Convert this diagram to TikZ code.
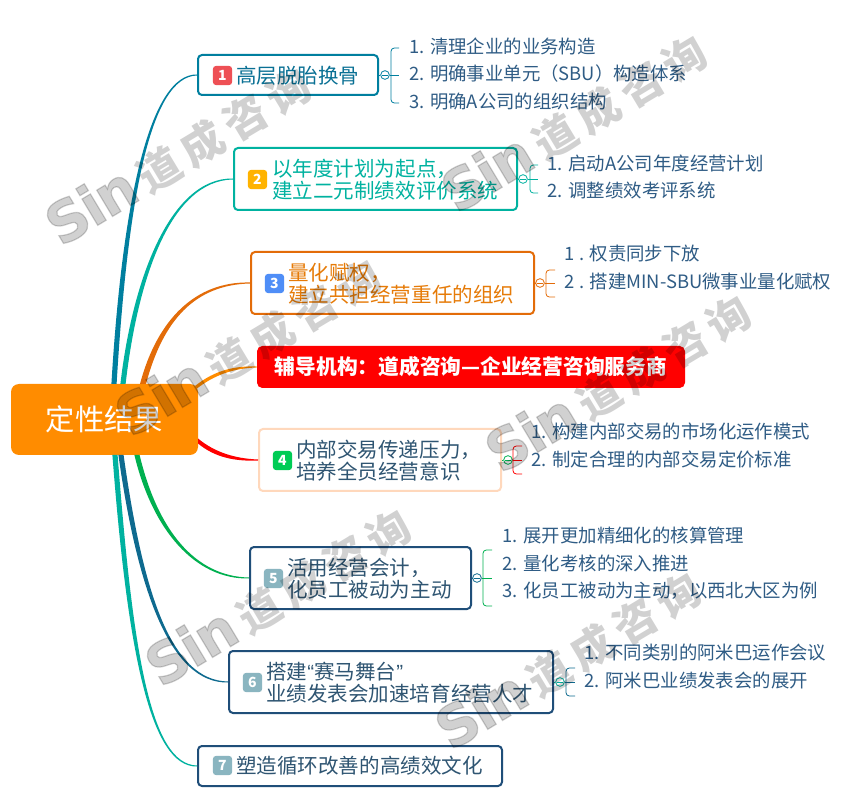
\documentclass[tikz,border=0pt]{standalone}
\usepackage{fontspec}
\usetikzlibrary{calc,shapes.misc}
\setmainfont{Noto Sans CJK SC}
\newfontfamily\latinq{Liberation Sans}
\newfontfamily\wmfont[FakeBold=2.2]{DejaVu Sans Bold}
\definecolor{cA}{HTML}{007F9F}
\definecolor{cB}{HTML}{00B2A0}
\definecolor{cC}{HTML}{E36C09}
\definecolor{cD}{HTML}{FF8C00}
\definecolor{cE}{HTML}{FF0000}
\definecolor{cF}{HTML}{00B050}
\definecolor{cG}{HTML}{0E6A8F}
\definecolor{navy}{HTML}{1F4E79}
\definecolor{peach}{HTML}{FFD8BC}
\definecolor{subtxt}{HTML}{2F5C85}
\definecolor{maintxt}{HTML}{2F5572}
\definecolor{bA}{HTML}{EE5055}
\definecolor{bB}{HTML}{FFB300}
\definecolor{bC}{HTML}{4F8EF7}
\definecolor{bD}{HTML}{00CC55}
\definecolor{bE}{HTML}{8AB5C0}
\tikzset{
  topicbox/.style={draw=#1,line width=1.5pt,rounded corners=3pt,fill=white,inner sep=0pt},
  badge/.style={fill=#1,rounded corners=2.5pt,minimum size=14.5pt,inner sep=0pt,text=white,font=\fontsize{10.5pt}{11pt}\selectfont\bfseries},
  maintext/.style={anchor=west,inner sep=0pt,align=left,text=#1,font=\fontsize{15.4pt}{16.5pt}\selectfont},
  subtext/.style={anchor=west,inner sep=0pt,text=subtxt,font=\fontsize{13.8pt}{16pt}\selectfont},
  fold/.style={circle,draw=#1,line width=0.6pt,fill=white,minimum size=6.5pt,inner sep=0pt,
    path picture={\draw[#1,line width=0.5pt] ([xshift=-2pt]path picture bounding box.center) -- ([xshift=2pt]path picture bounding box.center);}},
  wmstyle/.style={text=black,opacity=0.18,inner sep=0pt,rotate=31}
}
% name, x1, y1, x2, y2, colour
\newcommand\boxnode[6]{\node[topicbox=#6,minimum width={(#4-#2)*0.75pt},minimum height={(#5-#3)*0.75pt}] (#1) at ({(#2+#4)/2},{(#3+#5)/2}) {};}
% colour, start coordinate, half width, c1, c2, end, sign (-1 rising branch, 1 falling branch)
\newcommand\taper[7]{\fill[#1] ($(#2)+(#3,0)$) .. controls ($#4+(#3,0)$) and ($#5+(0,{#7*(-0.6)*#3})$) .. ($#6+(0,{#7*(-0.5)})$) -- ($#6+(0,{#7*0.5})$) .. controls ($#5+(0,{#7*0.6*#3})$) and ($#4-(#3,0)$) .. ($(#2)-(#3,0)$) -- cycle;}
\newcommand\tapery[6]{\fill[#1] ($(#2)+(0,#3)$) .. controls ($#4+(0,#3)$) and ($#5+(0,0.6*#3)$) .. ($#6+(0,0.5)$) -- ($#6-(0,0.5)$) .. controls ($#5-(0,0.6*#3)$) and ($#4-(0,#3)$) .. ($(#2)-(0,#3)$) -- cycle;}
% name, parent, fold colour, bracket colour, x of fold, y, x bracket, x end, y top
\newcommand\brak[9]{%
  \node[fold=#3] (#1f) at (#5,#6) {};
  \coordinate (#1a) at (#8,#6);
  \draw[#3,line width=0.6pt] (#2.east) -- (#1f.west);
  \draw[#4,line width=0.6pt] (#1f.east) -- (#1a);
  \draw[#4,line width=0.6pt,rounded corners=2.5pt] (#8,#9) -- (#7,#9) -- (#7,\brakbot) -- (#8,\brakbot);
}
\newcommand\wmark[3]{\node[wmstyle] (#1) at (#2,#3) {{\wmfont\fontsize{42pt}{44pt}\selectfont S\kern-1.5pt i\kern-1.5pt n}\hspace{6pt}{\fontsize{32pt}{36pt}\selectfont\bfseries 道\hspace{5.5pt}成\hspace{5.5pt}咨\hspace{5.5pt}询}};}
\begin{document}
\begin{tikzpicture}[x=0.75pt,y=-0.75pt]
\useasboundingbox (0,0) rectangle (844,806);
\fill[white] (0,0) rectangle (844,806);
% root and topics
\node[fill=cD,rounded corners=6pt,minimum width={187*0.75pt},minimum height={71*0.75pt},inner sep=0pt,text=white,font=\fontsize{22pt}{24pt}\selectfont] (root) at (104.5,419.5) {定性结果};
\boxnode{n1}{198}{55}{378}{95}{cA}
\boxnode{n2}{234}{148}{517}{210}{cB}
\boxnode{n3}{251}{252}{534}{314}{cC}
\node[fill=cE,rounded corners=4pt,minimum width={428*0.75pt},minimum height={42*0.75pt},inner sep=0pt,text=white,font=\fontsize{15.55pt}{16.5pt}\selectfont\bfseries] (nr) at (471,367) {辅导机构：道成咨询—企业经营咨询服务商};
\boxnode{n4}{259}{429}{501}{491}{peach}
\boxnode{n5}{250}{547}{471}{609}{navy}
\boxnode{n6}{229}{651}{553}{713}{navy}
\boxnode{n7}{198}{746}{502}{786}{navy}
% badges
\node[badge=bA] (b1) at (222.5,75.5) {1};
\node[badge=bB] (b2) at (257.5,179.5) {2};
\node[badge=bC] (b3) at (274.5,283.5) {3};
\node[badge=bD] (b4) at (282.5,460.5) {4};
\node[badge=bE] (b5) at (273.5,578.5) {5};
\node[badge=bE] (b6) at (252.5,682.5) {6};
\node[badge=bE] (b7) at (222.5,765.5) {7};
% topic texts
\node[maintext=cA!70!navy] (t1) at (236,76) {高层脱胎换骨};
\node[maintext=cB] (t2) at (272,180) {以年度计划为起点，\\建立二元制绩效评价系统};
\node[maintext=cC!90!yellow] (t3) at (288,284) {量化赋权，\\建立共担经营重任的组织};
\node[maintext=maintxt] (t4) at (296,461) {内部交易传递压力，\\培养全员经营意识};
\node[maintext=maintxt] (t5) at (287,579) {活用经营会计，\\化员工被动为主动};
\node[maintext=maintxt] (t6) at (266,683) {搭建{\latinq “}赛马舞台{\latinq ”}\\业绩发表会加速培育经营人才};
\node[maintext=maintxt] (t7) at (236,766) {塑造循环改善的高绩效文化};
% branches
\coordinate (s1) at (114,384);
\coordinate (s2) at (123,384);
\coordinate (s3) at (143,384);
\coordinate (s4) at (195,388);
\coordinate (s5) at (198,441);
\coordinate (s6) at (137,455);
\coordinate (s7) at (121,455);
\coordinate (s8) at (115,455);
\taper{cA}{s1}{2.6}{(125,200)}{(150,75)}{(n1.west)}{-1}
\taper{cB}{s2}{2.6}{(135,280)}{(170,179)}{(n2.west)}{-1}
\taper{cC}{s3}{3}{(160,320)}{(195,283)}{(n3.west)}{-1}
\tapery{cD}{s4}{2}{(215,372)}{(235,367)}{(nr.west)}
\tapery{cE}{s5}{2.5}{(215,455)}{(235,460)}{(n4.west)}
\taper{cF}{s6}{2.6}{(155,530)}{(195,578)}{(n5.west)}{1}
\taper{cG}{s7}{2.6}{(140,590)}{(170,682)}{(n6.west)}{1}
\taper{cB}{s8}{2.6}{(130,650)}{(150,766)}{(n7.west)}{1}
% brackets
\def\brakbot{103}\brak{k1}{n1}{cA}{cA}{385}{75}{391}{399}{48}
\def\brakbot{193}\brak{k2}{n2}{cB}{cB}{523}{179}{530}{538}{165}
\def\brakbot{297}\brak{k3}{n3}{cC}{cC}{540}{283}{546}{555}{270}
\def\brakbot{474}\brak{k4}{n4}{cF}{cE}{508}{460}{513}{522}{446}
\def\brakbot{606}\brak{k5}{n5}{cG}{cF}{477}{578}{483}{492}{550}
\def\brakbot{696}\brak{k6}{n6}{cB}{cG}{560}{682}{566}{575}{668}
% sub texts
\node[subtext] (a1) at (409,46) {1. 清理企业的业务构造};
\node[subtext] (a2) at (409,74) {2. 明确事业单元（SBU）构造体系};
\node[subtext] (a3) at (409,102) {3. 明确A公司的组织结构};
\node[subtext] (c1) at (547.5,163) {1. 启动A公司年度经营计划};
\node[subtext] (c2) at (547.5,191) {2. 调整绩效考评系统};
\node[subtext] (d1) at (564.5,254) {1 . 权责同步下放};
\node[subtext] (d2) at (564.5,282) {2 . 搭建MIN-SBU微事业量化赋权};
\node[subtext] (e1) at (531.5,431) {1. 构建内部交易的市场化运作模式};
\node[subtext] (e2) at (531.5,459) {2. 制定合理的内部交易定价标准};
\node[subtext] (f1) at (502.5,535) {1. 展开更加精细化的核算管理};
\node[subtext] (f2) at (502.5,563) {2. 量化考核的深入推进};
\node[subtext] (f3) at (502.5,591) {3. 化员工被动为主动，以西北大区为例};
\node[subtext] (g1) at (584.5,653) {1. 不同类别的阿米巴运作会议};
\node[subtext] (g2) at (584.5,681) {2. 阿米巴业绩发表会的展开};
% watermarks
\wmark{w1}{178}{155}
\wmark{w2}{248}{346}
\wmark{w3}{574}{122}
\wmark{w4}{618}{382}
\wmark{w5}{278}{596}
\wmark{w6}{568}{659}
\end{tikzpicture}
\end{document}
